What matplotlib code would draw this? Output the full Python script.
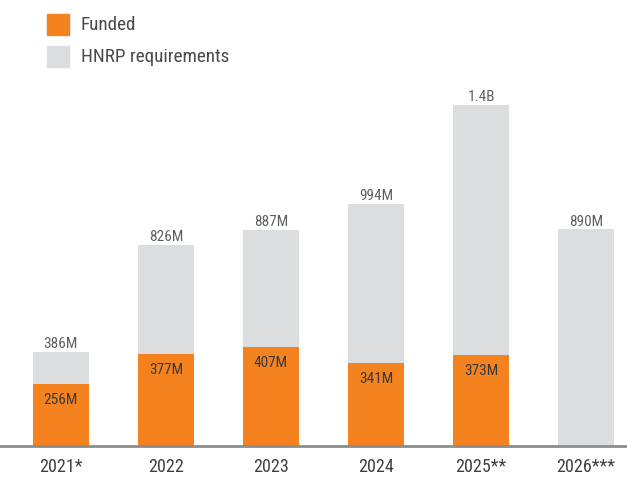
import matplotlib
matplotlib.use("Agg")
import matplotlib.pyplot as plt
from matplotlib import font_manager
from matplotlib.patches import Rectangle

# Data (US$)
years = ["2021*", "2022", "2023", "2024", "2025**", "2026***"]
requirements = [386, 826, 887, 994, 1400, 890]          # millions
funded = [256, 377, 407, 341, 373, None]                # millions
req_labels = ["386M", "826M", "887M", "994M", "1.4B", "890M"]
funded_labels = ["256M", "377M", "407M", "341M", "373M", None]

ORANGE = "#F4831F"
GREY = "#DCDDDE"

names = {f.name for f in font_manager.fontManager.ttflist}
for cand in ["Roboto Condensed", "Liberation Sans Narrow", "Roboto"]:
    if cand in names:
        FONT = cand
        break
else:
    FONT = "DejaVu Sans"
plt.rcParams["font.family"] = [FONT, "DejaVu Sans"]

fig = plt.figure(figsize=(6.27, 4.78), dpi=100)
ax = fig.add_axes([0, 32 / 478, 1, (446 - 80) / 478])

x = list(range(len(years)))
w = 0.54
ax.bar(x, requirements, width=w, color=GREY, zorder=1)
for i, (f, lab) in enumerate(zip(funded, funded_labels)):
    if f is not None:
        ax.bar(i, f, width=w, color=ORANGE, zorder=2)
        ax.annotate(lab, (i, f), xytext=(0, -11.5), textcoords="offset points",
                    ha="center", va="center", fontsize=11, color="#3a3a3a", zorder=3)
for i, (r, lab) in enumerate(zip(requirements, req_labels)):
    ax.annotate(lab, (i, r), xytext=(0, 0.5), textcoords="offset points",
                ha="center", va="bottom", fontsize=11, color="#606060")

ax.set_xlim(-0.58, 5.39)
ax.set_ylim(0, 1503)
for s in ["top", "right", "left"]:
    ax.spines[s].set_visible(False)
ax.spines["bottom"].set_color("#8c8c8c")
ax.spines["bottom"].set_linewidth(2)
ax.spines["bottom"].set_zorder(5)
ax.set_yticks([])
ax.set_xticks(x)
ax.set_xticklabels(years, fontsize=13, color="#404040")
ax.tick_params(axis="x", length=0, pad=8.5)

# Legend
for j, (col, txt) in enumerate([(ORANGE, "Funded"), (GREY, "HNRP requirements")]):
    y0 = 478 - 14 - 32 * j
    fig.patches.append(Rectangle((47 / 627, (y0 - 21) / 478), 22 / 627, 21 / 478,
                                 transform=fig.transFigure, color=col))
    fig.text(81 / 627, (y0 - 10.5) / 478, txt, fontsize=13.8, color="#4a4a4a",
             ha="left", va="center")

fig.savefig("out.png", dpi=100)
